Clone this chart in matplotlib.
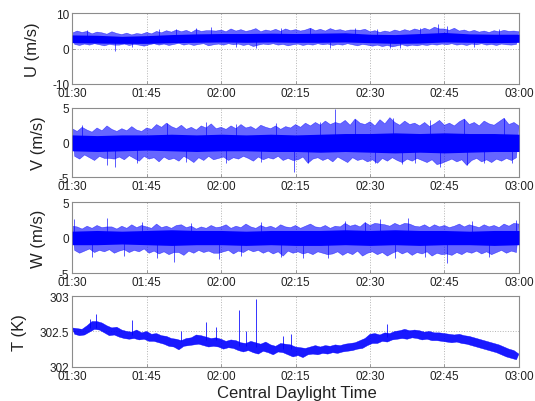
import numpy as np
import matplotlib
matplotlib.use('Agg')
import matplotlib.pyplot as plt

# ── Style ─────────────────────────────────────────────────────
BLUE = '#0000ff'
EDGE = '#8c8c8c'
GRID = '#b4b4b4'
TXT  = '#222222'
plt.rcParams.update({
    'font.family': ['Liberation Sans', 'DejaVu Sans'],
    'font.size': 8,
    'axes.edgecolor': EDGE,
    'axes.linewidth': 0.8,
    'xtick.color': EDGE,
    'ytick.color': EDGE,
    'xtick.labelcolor': TXT,
    'ytick.labelcolor': TXT,
})

# ── Data ──────────────────────────────────────────────────────
# minutes after 01:30; outer envelope highs at whole minutes,
# lows at half minutes; dense core band every 5 minutes;
# isolated spikes listed separately (minute, from, to)
tick_min    = [0, 15, 30, 45, 60, 75, 90]
tick_labels = ['01:30', '01:45', '02:00', '02:15', '02:30', '02:45', '03:00']

u_top = [4.4, 5.0, 4.6, 4.9, 4.2, 4.7, 4.5, 4.1, 4.8, 4.3,
         4.0, 4.4, 3.9, 4.3, 4.1, 4.6, 4.2, 4.9, 4.5, 5.1,
         4.7, 5.3, 4.8, 5.2, 4.6, 5.4, 4.9, 5.1, 5.1, 5.0,
         5.3, 4.8, 5.6, 5.0, 5.4, 4.9, 5.2, 5.7, 4.8, 5.3,
         5.0, 5.5, 4.9, 5.6, 5.1, 5.4, 5.0, 5.3, 5.8, 5.1,
         5.5, 5.0, 5.7, 5.2, 5.4, 5.0, 5.3, 5.3, 5.2, 5.5,
         4.8, 5.1, 4.6, 5.0, 4.7, 5.3, 4.9, 5.4, 5.0, 5.6,
         5.2, 5.8, 5.3, 6.1, 5.6, 5.6, 5.2, 5.8, 5.0, 5.3,
         4.8, 5.2, 4.7, 5.0, 4.6, 5.1, 4.8, 5.2, 4.9, 5.0, 4.8]
u_bot = [1.2, 0.9, 1.3, 1.0, 1.4, 1.1, 0.8, 1.2, 1.0, 1.0,
         1.3, 0.9, 1.2, 1.0, 0.7, 1.1, 1.4, 1.0, 1.3, 0.9,
         1.2, 1.5, 1.0, 1.3, 0.9, 1.2, 1.4, 0.8, 1.1, 1.3,
         1.0, 1.4, 1.1, 1.3, 0.9, 1.2, 0.6, 1.0, 1.3, 1.1,
         1.4, 1.0, 1.2, 0.8, 1.1, 1.3, 0.9, 1.2, 1.0, 1.4,
         1.1, 1.3, 0.9, 1.2, 1.0, 1.4, 1.1, 0.8, 1.2, 1.0,
         0.7, 1.0, 0.6, 0.9, 0.5, 0.8, 1.1, 0.7, 1.0, 0.8,
         1.1, 0.9, 1.2, 1.0, 1.3, 1.1, 1.4, 1.0, 1.2, 0.9,
         1.3, 1.1, 1.4, 1.0, 1.2, 0.9, 1.3, 1.1, 1.0, 1.2]
u_core_lo = [1.7, 1.6, 1.5, 1.5, 1.7, 1.8, 1.9, 1.8, 1.9, 1.8,
             1.8, 1.9, 1.7, 1.5, 1.6, 1.9, 1.8, 1.7, 1.8]
u_core_hi = [3.9, 3.8, 3.5, 3.7, 4.0, 4.2, 4.3, 4.3, 4.4, 4.3,
             4.4, 4.5, 4.1, 4.0, 4.3, 4.6, 4.2, 4.1, 4.1]
u_spk_x  = [3.0, 8.6, 12.0, 17.5, 21.0, 25.0, 28.0, 33.0, 37.0, 42.0,
            48.0, 52.0, 57.0, 61.5, 64.0, 66.0, 70.0, 73.7, 75.5, 81.0, 86.0]
u_spk_lo = [3.0, -0.6, 0.5, 3.0, 3.0, 3.0, 2.5, 0.4, 0.2, 3.0,
            3.0, 0.3, 2.5, 3.0, 0.3, 0.3, 3.0, 2.5, 2.5, 0.4, 3.0]
u_spk_hi = [5.3, 2.0, 2.0, 5.6, 5.6, 5.8, 6.2, 2.0, 3.0, 5.9,
            5.9, 2.0, 6.0, 5.7, 2.0, 2.0, 5.9, 6.9, 6.4, 2.0, 5.6]

v_top = [2.0, 1.6, 2.2, 1.8, 1.5, 2.1, 1.7, 2.4, 1.9, 1.6,
         2.0, 1.7, 2.3, 1.8, 1.6, 2.1, 1.9, 2.6, 2.2, 2.8,
         2.3, 2.0, 2.5, 1.9, 2.2, 1.8, 2.4, 2.1, 2.7, 2.0,
         2.2, 1.9, 2.4, 2.0, 2.6, 2.1, 2.3, 1.9, 2.5, 2.2,
         2.0, 2.4, 1.9, 2.3, 2.1, 2.6, 2.2, 2.8, 2.4, 2.9,
         2.5, 3.1, 2.6, 2.9, 2.7, 3.2, 2.5, 3.4, 2.8, 2.6,
         3.0, 2.4, 3.3, 2.7, 3.6, 2.9, 2.5, 3.1, 2.6, 2.8,
         2.4, 2.9, 2.3, 2.7, 3.2, 2.5, 2.8, 2.4, 3.0, 3.4,
         2.6, 2.9, 2.4, 3.1, 2.7, 2.5, 3.0, 3.5, 2.6, 2.9, 2.4]
v_bot = [-2.0, -2.4, -1.8, -2.2, -2.6, -2.0, -2.3, -2.3, -2.4, -2.1,
         -2.5, -1.9, -2.3, -2.7, -2.0, -2.4, -2.2, -2.8, -2.1, -2.5,
         -2.3, -2.7, -2.0, -2.4, -2.9, -2.2, -2.6, -2.0, -2.5, -2.3,
         -2.1, -2.6, -2.2, -2.4, -2.0, -2.3, -2.7, -2.1, -2.5, -2.2,
         -2.4, -2.0, -2.6, -2.3, -2.6, -2.5, -2.1, -3.0, -2.4, -2.2,
         -2.6, -2.3, -2.8, -2.1, -2.5, -2.9, -2.2, -2.6, -2.4, -2.8,
         -2.5, -3.0, -2.3, -2.7, -2.2, -2.6, -2.9, -2.4, -2.7, -2.3,
         -2.6, -2.9, -2.5, -3.2, -3.0, -2.7, -2.4, -2.8, -2.5, -3.3,
         -2.6, -2.3, -2.8, -2.5, -2.9, -2.4, -2.7, -2.3, -2.6, -2.2]
v_core_lo = [-1.2, -1.3, -1.2, -1.1, -1.2, -1.3, -1.2, -1.2, -1.3, -1.3,
             -1.4, -1.3, -1.4, -1.5, -1.4, -1.5, -1.4, -1.3, -1.3]
v_core_hi = [1.1, 1.0, 1.1, 1.1, 1.2, 1.1, 1.2, 1.1, 1.2, 1.1,
             1.2, 1.3, 1.3, 1.4, 1.3, 1.4, 1.3, 1.3, 1.2]
v_spk_x  = [2.0, 7.0, 8.6, 13.0, 19.0, 23.0, 27.0, 31.0, 33.0, 38.0,
            41.0, 44.6, 47.5, 50.0, 53.0, 57.0, 61.0, 64.6, 66.5, 69.0,
            72.0, 74.0, 79.0, 79.5, 83.0, 87.0, 88.5]
v_spk_lo = [0.0, -3.3, -3.6, -2.9, 0.0, -2.8, 0.0, -2.9, 0.0, -2.8,
            0.0, -4.3, -3.0, 0.0, 0.0, 0.0, -3.0, 0.0, -3.1, -3.0,
            0.0, -3.6, 0.0, -3.3, -3.0, 0.0, -2.9]
v_spk_hi = [2.6, 0.0, 0.0, 0.0, 2.8, 0.0, 2.9, 0.0, 2.7, 0.0,
            2.8, 0.0, 0.0, 3.0, 4.8, 3.4, 0.0, 3.6, 0.0, 0.0,
            3.2, 0.0, 3.4, 0.0, 0.0, 3.5, 0.0]

w_top = [1.6, 1.5, 1.2, 1.6, 1.3, 1.7, 1.4, 1.5, 1.5, 1.2,
         1.6, 1.3, 1.8, 1.4, 1.7, 1.5, 1.3, 1.9, 1.4, 1.6,
         1.3, 1.7, 1.8, 1.4, 1.6, 1.2, 1.5, 1.3, 1.7, 1.4,
         1.5, 1.8, 1.3, 1.6, 1.4, 1.9, 1.5, 1.3, 1.7, 1.4,
         1.6, 1.3, 1.8, 1.5, 1.4, 1.7, 1.3, 1.6, 1.9, 1.5,
         1.4, 1.7, 1.3, 1.6, 1.5, 2.0, 1.6, 1.8, 1.5, 2.1,
         1.7, 2.0, 1.9, 1.8, 1.6, 2.0, 1.7, 2.0, 1.9, 1.6,
         1.5, 1.8, 1.4, 1.8, 1.5, 1.7, 1.4, 1.6, 1.9, 1.5,
         1.8, 1.6, 1.4, 1.8, 1.5, 1.7, 1.4, 1.9, 1.6, 2.0, 1.9]
w_bot = [-1.8, -2.2, -1.9, -1.6, -2.1, -1.8, -2.0, -1.7, -2.2, -1.9,
         -1.7, -2.1, -1.8, -2.0, -1.6, -2.2, -1.9, -2.3, -2.0, -2.4,
         -2.1, -2.1, -2.5, -1.9, -2.2, -1.8, -2.1, -1.9, -2.2, -2.2,
         -2.0, -1.8, -2.3, -1.9, -2.1, -1.7, -2.0, -1.8, -2.2, -1.9,
         -2.3, -2.0, -2.6, -1.9, -2.2, -2.0, -2.3, -2.1, -2.4, -2.0,
         -2.2, -2.4, -2.3, -2.0, -2.5, -2.1, -2.4, -1.9, -2.6, -2.2,
         -2.0, -2.4, -2.1, -2.6, -2.2, -1.9, -2.3, -2.0, -2.5, -2.1,
         -2.3, -2.0, -2.6, -2.2, -2.4, -2.3, -2.5, -2.1, -2.4, -2.0,
         -2.2, -1.9, -2.3, -2.0, -2.4, -2.1, -1.8, -2.2, -1.9, -2.1]
w_core_lo = [-1.0, -1.0, -0.9, -1.0, -1.1, -1.0, -1.0, -1.1, -1.0, -1.1,
             -1.1, -1.0, -1.1, -1.0, -1.1, -1.0, -1.0, -1.1, -1.0]
w_core_hi = [0.9, 1.0, 0.9, 1.0, 1.1, 1.0, 1.0, 0.9, 1.0, 1.0,
             1.0, 1.1, 1.0, 1.1, 1.0, 1.0, 0.9, 1.0, 1.0]
w_spk_x  = [0.3, 4.0, 7.0, 10.5, 14.0, 17.0, 20.5, 24.0, 29.5, 34.0,
            38.0, 42.0, 46.5, 51.5, 55.0, 59.0, 62.0, 65.0, 67.6, 71.0,
            75.5, 80.5, 84.0, 89.5]
w_spk_lo = [0.0, -2.7, 0.0, -2.6, 0.0, -2.8, -3.5, 0.0, -3.0, -2.6,
            0.0, -2.7, -2.8, -2.9, 0.0, 0.0, 0.0, -2.8, 0.0, -2.7,
            -3.6, 0.0, -2.7, 0.0]
w_spk_hi = [2.6, 0.0, 2.8, 0.0, 2.2, 0.0, 0.0, 2.1, 0.0, 0.0,
            2.2, 0.0, 0.0, 0.0, 2.3, 2.2, 2.6, 0.0, 2.8, 0.0,
            0.0, 2.4, 0.0, 2.5]

t_top = [302.55, 302.54, 302.53, 302.58, 302.64, 302.64, 302.62, 302.58, 302.55, 302.56,
         302.52, 302.50, 302.49, 302.52, 302.48, 302.50, 302.46, 302.47, 302.44, 302.43,
         302.40, 302.39, 302.37, 302.40, 302.41, 302.45, 302.44, 302.42, 302.40, 302.41,
         302.39, 302.36, 302.38, 302.37, 302.34, 302.33, 302.36, 302.34, 302.32, 302.35,
         302.31, 302.29, 302.33, 302.32, 302.31, 302.28, 302.27, 302.26, 302.28, 302.30,
         302.28, 302.30, 302.29, 302.31, 302.30, 302.32, 302.33, 302.34, 302.37, 302.40,
         302.46, 302.47, 302.45, 302.48, 302.47, 302.50, 302.51, 302.53, 302.51, 302.52,
         302.51, 302.49, 302.50, 302.48, 302.48, 302.47, 302.46, 302.45, 302.46, 302.44,
         302.43, 302.41, 302.39, 302.37, 302.35, 302.33, 302.31, 302.28, 302.25, 302.23, 302.18]
t_bot = [302.46, 302.44, 302.45, 302.49, 302.53, 302.52, 302.48, 302.44, 302.45, 302.42,
         302.40, 302.39, 302.40, 302.38, 302.39, 302.36, 302.36, 302.34, 302.32, 302.29,
         302.28, 302.24, 302.29, 302.30, 302.31, 302.32, 302.30, 302.28, 302.29, 302.28,
         302.25, 302.27, 302.26, 302.23, 302.21, 302.23, 302.20, 302.18, 302.22, 302.20,
         302.17, 302.21, 302.20, 302.17, 302.14, 302.16, 302.13, 302.17, 302.18, 302.17,
         302.19, 302.18, 302.20, 302.19, 302.21, 302.22, 302.23, 302.25, 302.26, 302.30,
         302.33, 302.33, 302.36, 302.35, 302.38, 302.39, 302.40, 302.39, 302.41, 302.40,
         302.38, 302.39, 302.37, 302.37, 302.36, 302.35, 302.34, 302.35, 302.33, 302.32,
         302.30, 302.28, 302.26, 302.24, 302.22, 302.20, 302.17, 302.14, 302.12, 302.10]
t_spk_x  = [3.5, 4.8, 12.0, 22.0, 27.0, 29.0, 33.5, 35.0, 37.0, 42.5, 44.0, 63.5]
t_spk_lo = [302.55, 302.55, 302.45, 302.36, 302.38, 302.38, 302.30, 302.30, 302.28,
            302.25, 302.25, 302.42]
t_spk_hi = [302.68, 302.75, 302.66, 302.50, 302.63, 302.56, 302.80, 302.50, 302.96,
            302.44, 302.47, 302.60]

panels = [
    ('U (m/s)', u_top, u_bot, u_core_lo, u_core_hi, u_spk_x, u_spk_lo, u_spk_hi,
     (-10, 10), [-10, 0, 10], ['-10', '0', '10']),
    ('V (m/s)', v_top, v_bot, v_core_lo, v_core_hi, v_spk_x, v_spk_lo, v_spk_hi,
     (-5, 5), [-5, 0, 5], ['-5', '0', '5']),
    ('W (m/s)', w_top, w_bot, w_core_lo, w_core_hi, w_spk_x, w_spk_lo, w_spk_hi,
     (-5, 5), [-5, 0, 5], ['-5', '0', '5']),
    ('T (K)', t_top, t_bot, None, None, t_spk_x, t_spk_lo, t_spk_hi,
     (302, 303), [302, 302.5, 303], ['302', '302.5', '303']),
]

# axes boxes [left, bottom, width, height] in figure fractions
boxes = [[0.135, 0.789, 0.835, 0.175],
         [0.135, 0.557, 0.835, 0.172],
         [0.135, 0.318, 0.835, 0.177],
         [0.135, 0.085, 0.835, 0.176]]

fig = plt.figure(figsize=(5.35, 4.02), dpi=100, facecolor='white')

for (lab, top, bot, clo, chi, sx, slo, shi, ylim, yt, ytl), box in zip(panels, boxes):
    ax = fig.add_axes(box)
    x_top = np.arange(len(top))
    x_bot = np.arange(len(bot)) + 0.5
    # outer envelope as one polygon: highs forward, lows back
    px = np.concatenate([x_top, x_bot[::-1]])
    py = np.concatenate([top, bot[::-1]])
    if clo is not None:
        ax.fill(px, py, color=BLUE, alpha=0.6, lw=0.4, ec=BLUE, zorder=2)
        x5 = np.arange(len(clo)) * 5
        ax.fill_between(x5, clo, chi, color=BLUE, lw=0, zorder=3)
        ax.vlines(sx, slo, shi, color=BLUE, lw=0.6, alpha=0.75, zorder=2)
    else:
        ax.fill(px, py, color=BLUE, alpha=0.9, lw=0.3, ec=BLUE, zorder=2)
        ax.vlines(sx, slo, shi, color=BLUE, lw=0.7, alpha=0.8, zorder=2)
    ax.set_xlim(0, 90)
    ax.set_ylim(*ylim)
    ax.set_xticks(tick_min)
    ax.set_xticklabels(tick_labels)
    ax.set_yticks(yt)
    ax.set_yticklabels(ytl)
    ax.tick_params(direction='in', length=2.5, width=0.6, pad=2, labelsize=8.5)
    ax.grid(True, color=GRID, linestyle=':', linewidth=0.7)
    ax.set_axisbelow(True)
    ax.set_ylabel(lab, fontsize=12, color=TXT, labelpad=9)

fig.text(0.554, 0.022, 'Central Daylight Time', ha='center', va='center',
         fontsize=12, color=TXT)

plt.savefig('out.png', dpi=100, facecolor='white')
plt.close()
